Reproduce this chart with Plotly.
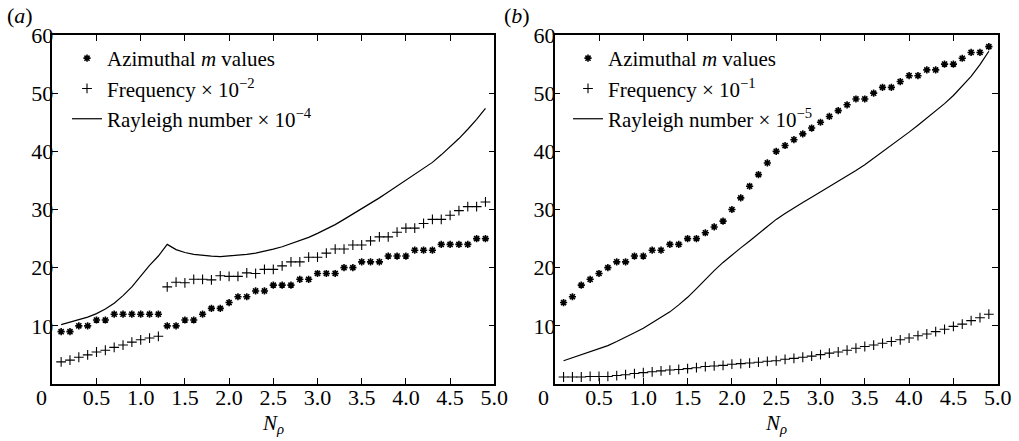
import plotly.graph_objects as go

x_vals = [round(0.1 * i, 1) for i in range(1, 50)]

# Panel (a)
m_a = [9, 9, 10, 10, 11, 11, 12, 12, 12, 12, 12, 12, 10, 10, 11, 11, 12, 13, 13, 14,
       15, 15, 16, 16, 17, 17, 17, 18, 18, 19, 19, 19, 20, 20, 21, 21, 21, 22, 22, 22,
       23, 23, 23, 24, 24, 24, 24, 25, 25]
freq_a = [3.8, 4.1, 4.6, 5.0, 5.5, 5.8, 6.3, 6.7, 7.2, 7.6, 7.9, 8.2, 16.7, 17.5, 17.4,
          18.0, 18.0, 17.9, 18.6, 18.5, 18.5, 19.1, 19.0, 19.7, 19.7, 20.3, 21.0, 21.0,
          21.8, 21.8, 22.5, 23.2, 23.2, 23.9, 23.9, 24.6, 25.3, 25.3, 26.1, 26.8, 26.8,
          27.6, 28.3, 28.3, 29.0, 29.8, 30.5, 30.5, 31.3]
ra_a = [10.2, 10.6, 11.0, 11.5, 12.1, 12.9, 13.9, 15.2, 16.7, 18.6, 20.4, 22.0, 24.0,
        23.1, 22.6, 22.3, 22.1, 22.0, 21.9, 22.0, 22.1, 22.3, 22.5, 22.8, 23.2, 23.6,
        24.1, 24.6, 25.2, 25.9, 26.6, 27.4, 28.3, 29.2, 30.2, 31.1, 32.0, 33.0, 34.0,
        35.0, 36.0, 37.0, 38.1, 39.4, 40.8, 42.2, 43.8, 45.5, 47.4]

# Panel (b)
m_b = [14, 15, 17, 18, 19, 20, 21, 21, 22, 22, 23, 23, 24, 24, 25, 25, 26, 27, 28, 30,
       32, 34, 36, 38, 40, 41, 42, 43, 44, 45, 46, 47, 48, 49, 49, 50, 51, 51, 52, 53,
       53, 54, 54, 55, 55, 56, 57, 57, 58]
freq_b = [1.2, 1.2, 1.2, 1.3, 1.3, 1.3, 1.45, 1.6, 1.8, 1.95, 2.1, 2.25, 2.4, 2.5, 2.65,
          2.8, 3.0, 3.1, 3.2, 3.4, 3.5, 3.6, 3.75, 3.9, 4.0, 4.25, 4.4, 4.6, 4.8, 5.05,
          5.3, 5.5, 5.8, 6.15, 6.45, 6.7, 7.0, 7.3, 7.6, 7.9, 8.3, 8.6, 9.0, 9.4, 9.9,
          10.3, 10.9, 11.4, 12.0]
ra_b = [4.0, 4.5, 5.0, 5.5, 6.0, 6.6, 7.3, 8.0, 8.8, 9.6, 10.5, 11.4, 12.4, 13.6, 14.9,
        16.4, 18.0, 19.5, 20.9, 22.2, 23.4, 24.6, 25.8, 27.1, 28.3, 29.3, 30.3, 31.2,
        32.1, 33.0, 33.9, 34.8, 35.7, 36.7, 37.7, 38.8, 39.9, 41.0, 42.1, 43.3, 44.5,
        45.7, 46.9, 48.2, 49.6, 51.2, 52.9, 54.9, 57.2]

x_tickvals = [0.5, 1.0, 1.5, 2.0, 2.5, 3.0, 3.5, 4.0, 4.5, 5.0]
x_ticktext = ["0.5", "1.0", "1.5", "2.0", "2.5", "3.0", "3.5", "4.0", "4.5", "5.0"]
y_tickvals = [10, 20, 30, 40, 50, 60]
y_ticktext = ["10", "20", "30", "40", "50", "60"]

names_a = ["Azimuthal <i>m</i> values", "Frequency × 10<sup>−2</sup>",
           "Rayleigh number × 10<sup>−4</sup>"]
names_b = ["Azimuthal <i>m</i> values", "Frequency × 10<sup>−1</sup>",
           "Rayleigh number × 10<sup>−5</sup>"]

FONT = "Liberation Serif"
W, H = 1019, 441

fig = go.Figure()

def add_panel(m, fr, ra, names, xa, ya, leg):
    fig.add_trace(go.Scatter(x=x_vals, y=m, mode="markers", name=names[0],
                             marker=dict(symbol="asterisk-open", size=6, color="black",
                                         line=dict(color="black", width=1.6)),
                             xaxis=xa, yaxis=ya, legend=leg))
    fig.add_trace(go.Scatter(x=x_vals, y=fr, mode="markers", name=names[1],
                             marker=dict(symbol="cross-thin-open", size=7, color="black",
                                         line=dict(color="black", width=1.1)),
                             xaxis=xa, yaxis=ya, legend=leg))
    fig.add_trace(go.Scatter(x=x_vals, y=ra, mode="lines", name=names[2],
                             line=dict(color="black", width=1.2),
                             xaxis=xa, yaxis=ya, legend=leg))

add_panel(m_a, freq_a, ra_a, names_a, "x", "y", "legend")
add_panel(m_b, freq_b, ra_b, names_b, "x2", "y2", "legend2")

ydom = [1 - 384 / H, 1 - 35 / H]
axis_common = dict(showgrid=False, zeroline=False, showline=True, linecolor="black",
                   linewidth=1.5, mirror="ticks", ticks="inside", ticklen=6,
                   tickwidth=1, tickcolor="black", automargin=False,
                   tickfont=dict(family=FONT, size=22, color="black"))

fig.update_layout(
    width=W, height=H,
    margin=dict(l=0, r=0, t=0, b=0, autoexpand=False),
    paper_bgcolor="white", plot_bgcolor="white",
    font=dict(family=FONT, color="black"),
    xaxis=dict(domain=[52.3 / W, 494.3 / W], range=[0, 5], tickvals=x_tickvals,
               ticktext=x_ticktext, anchor="y", ticklabelstandoff=-7, **axis_common),
    yaxis=dict(domain=ydom, range=[0, 60], tickvals=y_tickvals, ticktext=y_ticktext,
               anchor="x", ticklabelstandoff=-7, **axis_common),
    xaxis2=dict(domain=[554.7 / W, 997.7 / W], range=[0, 5], tickvals=x_tickvals,
                ticktext=x_ticktext, anchor="y2", ticklabelstandoff=-7, **axis_common),
    yaxis2=dict(domain=ydom, range=[0, 60], tickvals=y_tickvals, ticktext=y_ticktext,
                anchor="x2", ticklabelstandoff=-7, **axis_common),
    legend=dict(x=67 / W, y=1 - 38 / H, xanchor="left", yanchor="top",
                bgcolor="rgba(0,0,0,0)", font=dict(family=FONT, size=21, color="black")),
    legend2=dict(x=568 / W, y=1 - 38 / H, xanchor="left", yanchor="top",
                 bgcolor="rgba(0,0,0,0)", font=dict(family=FONT, size=21, color="black")),
    showlegend=True,
)

ann_font = dict(family=FONT, size=22, color="black")
for xa, ya, cx in [("x", "y", (52.3 + 494.3) / 2 / W), ("x2", "y2", (554.7 + 997.7) / 2 / W)]:
    fig.add_annotation(x=0, y=0, xref=xa, yref=ya, text="0", showarrow=False,
                       xanchor="center", yanchor="middle", xshift=-11, yshift=-13,
                       font=ann_font)
    fig.add_annotation(x=cx, y=1 - 424 / H, xref="paper", yref="paper",
                       text="<i>N</i><sub><i>ρ</i></sub>", showarrow=False,
                       xanchor="center", yanchor="middle",
                       font=dict(family=FONT, size=21, color="black"))

fig.add_annotation(x=5 / W, y=1 - 15 / H, xref="paper", yref="paper", text="(<i>a</i>)",
                   showarrow=False, xanchor="left", yanchor="middle", font=ann_font)
fig.add_annotation(x=502 / W, y=1 - 15 / H, xref="paper", yref="paper", text="(<i>b</i>)",
                   showarrow=False, xanchor="left", yanchor="middle", font=ann_font)

fig.write_html("out.html")
